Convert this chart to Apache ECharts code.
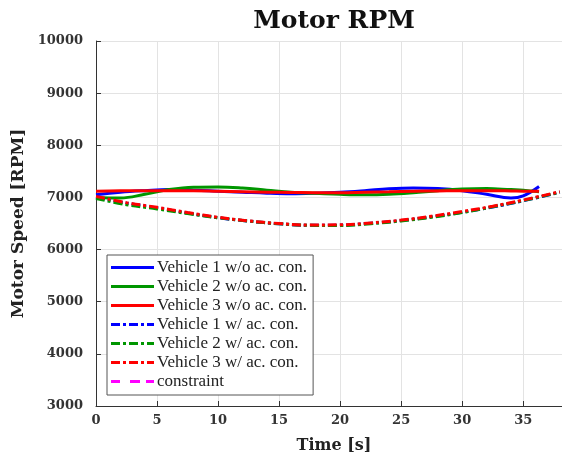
<!DOCTYPE html>
<html><head><meta charset="utf-8">
<script src="https://cdn.jsdelivr.net/npm/echarts@6/dist/echarts.min.js"></script>
<style>html,body{margin:0;padding:0;background:#fff}#c{width:562px;height:461px}</style>
</head><body><div id="c"></div>
<script>
// Data
const timeSolid = [0, 2, 4, 6, 8, 10, 12, 14, 16, 18, 20, 22, 24, 26, 28, 30, 32, 34, 35, 36.3];
const v1NoAc = [7050, 7100, 7130, 7150, 7140, 7120, 7100, 7080, 7070, 7080, 7100, 7130, 7165, 7180, 7170, 7130, 7060, 6990, 7030, 7210];
const v2NoAc = [7000, 6990, 7060, 7150, 7195, 7200, 7180, 7140, 7100, 7080, 7060, 7050, 7060, 7090, 7130, 7160, 7170, 7150, 7140, 7110];
const v3NoAc = [7120, 7130, 7130, 7130, 7130, 7120, 7110, 7100, 7095, 7090, 7090, 7100, 7110, 7120, 7125, 7130, 7130, 7125, 7120, 7120];
const timeAc = [0, 2.5, 5, 7.5, 10, 12.5, 15, 17.5, 20, 22.5, 25, 27.5, 30, 32.5, 35, 38];
const v1Ac = [7000, 6890, 6800, 6700, 6610, 6545, 6495, 6465, 6470, 6505, 6555, 6630, 6715, 6815, 6935, 7100];
const v2Ac = [6980, 6860, 6780, 6690, 6610, 6545, 6495, 6465, 6460, 6495, 6550, 6620, 6710, 6820, 6940, 7100];
const v3Ac = [7020, 6900, 6810, 6710, 6620, 6550, 6500, 6470, 6475, 6510, 6565, 6640, 6730, 6830, 6950, 7110];
const constraintData = []; // constraint lies outside the visible range
const seriesNames = ['Vehicle 1 w/o ac. con.', 'Vehicle 2 w/o ac. con.', 'Vehicle 3 w/o ac. con.',
  'Vehicle 1 w/ ac. con.', 'Vehicle 2 w/ ac. con.', 'Vehicle 3 w/ ac. con.', 'constraint'];

const zip = (t, v) => t.map((x, i) => [x, v[i]]);
const boldFont = 'DejaVu Serif';
const legFont = 'Liberation Serif';
const dashDot = [9, 3, 3, 3];
const iconSolid = 'path://M0,0h43v3h-43z';
const iconDashDot = 'path://M0,0h9v3h-9z M12,0h3v3h-3z M18,0h9v3h-9z M30,0h3v3h-3z M36,0h7v3h-7z';
const iconDashed = 'path://M0,0h9v3h-9z M19,0h10v3h-10z M35,0h8v3h-8z';
const legendIcons = [iconSolid, iconSolid, iconSolid, iconDashDot, iconDashDot, iconDashDot, iconDashed];
function mk(name, data, color, type) {
  return {name, type: 'line', data, smooth: 0.4, showSymbol: false, symbol: 'none',
    lineStyle: {color, width: 3, type}, itemStyle: {color}, z: 3};
}
const chart = echarts.init(document.getElementById('c'), null, {renderer: 'canvas'});
chart.setOption({
  animation: false,
  backgroundColor: '#fff',
  title: {text: 'Motor RPM', left: 329, top: 4, textAlign: 'center',
    textStyle: {fontFamily: boldFont, fontWeight: 'bold', fontSize: 25, color: '#111'}},
  grid: {left: 96, top: 41, right: -10, bottom: 55, outerBoundsMode: 'none', containLabel: false},
  xAxis: {type: 'value', min: 0, max: 39, interval: 5,
    name: 'Time [s]', nameLocation: 'middle', nameGap: 32,
    nameTextStyle: {fontFamily: boldFont, fontWeight: 'bold', fontSize: 16, color: '#222'},
    axisLine: {lineStyle: {color: '#333', width: 1}},
    axisTick: {inside: true, length: 5, lineStyle: {color: '#333'}},
    axisLabel: {fontFamily: boldFont, fontWeight: 'bold', fontSize: 13, color: '#333', margin: 8,
      formatter: v => (v % 5 === 0 ? String(v) : '')},
    splitLine: {show: true, lineStyle: {color: '#e3e3e3'}}},
  yAxis: {type: 'value', min: 3000, max: 10000, interval: 1000,
    name: 'Motor Speed [RPM]', nameLocation: 'middle', nameGap: 60, nameRotate: 90,
    nameTextStyle: {fontFamily: boldFont, fontWeight: 'bold', fontSize: 17, color: '#222'},
    axisLine: {show: true, lineStyle: {color: '#333', width: 1}},
    axisTick: {show: true, inside: true, length: 5, lineStyle: {color: '#333'}},
    axisLabel: {fontFamily: boldFont, fontWeight: 'bold', fontSize: 13, color: '#333', margin: 13,
      formatter: v => String(v)},
    splitLine: {show: true, lineStyle: {color: '#e3e3e3'}}},
  legend: {orient: 'vertical', left: 107, top: 255, itemWidth: 43, itemHeight: 3, itemGap: 2,
    symbolKeepAspect: false,
    padding: [4, 6, 5, 4], backgroundColor: '#fff', borderColor: '#555', borderWidth: 1, borderRadius: 0,
    itemStyle: {borderWidth: 0}, lineStyle: {width: 0},
    data: seriesNames.map((n, i) => ({name: n, icon: legendIcons[i]})),
    textStyle: {fontFamily: legFont, fontSize: 17, color: '#222', padding: [0, 0, 0, -2]}},
  series: [
    mk(seriesNames[0], zip(timeSolid, v1NoAc), '#0000ff', 'solid'),
    mk(seriesNames[1], zip(timeSolid, v2NoAc), '#009600', 'solid'),
    mk(seriesNames[2], zip(timeSolid, v3NoAc), '#ff0000', 'solid'),
    mk(seriesNames[3], zip(timeAc, v1Ac), '#0000ff', dashDot),
    mk(seriesNames[4], zip(timeAc, v2Ac), '#009600', dashDot),
    mk(seriesNames[5], zip(timeAc, v3Ac), '#ff0000', dashDot),
    mk(seriesNames[6], constraintData, '#ff00ff', [10, 10])
  ]
});
</script></body></html>
